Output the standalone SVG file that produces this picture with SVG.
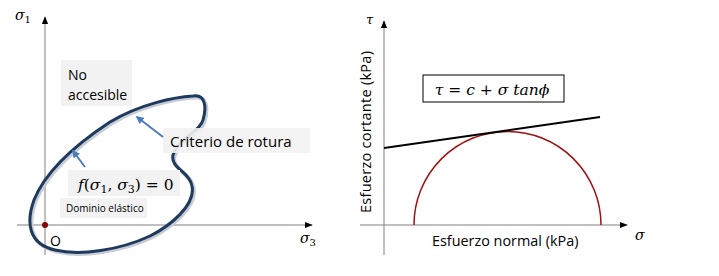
<svg xmlns="http://www.w3.org/2000/svg" width="719" height="276" viewBox="0 0 719 276">
<style>
.ax{stroke:#808080;stroke-width:1;fill:none}
.lbl{font-family:"Open Sans","Liberation Sans",Arial,sans-serif;fill:#000}
.math{font-family:"DejaVu Serif","Liberation Serif",serif;font-style:italic;fill:#000}
.up{font-style:normal}
.gbox{fill:#f2f2f2}
.barrow{stroke:#4a7ebb;stroke-width:2;fill:none;marker-end:url(#ba)}
</style>
<defs>
<marker id="ah" viewBox="0 0 10 10" refX="9" refY="5" markerWidth="8" markerHeight="8" markerUnits="userSpaceOnUse" orient="auto"><path d="M0,1 L10,5 L0,9 Z" fill="#000"/></marker>
<marker id="ba" viewBox="0 0 10 10" refX="8" refY="5" markerWidth="8" markerHeight="8" markerUnits="userSpaceOnUse" orient="auto"><path d="M0,0 L10,5 L0,10 Z" fill="#4a7ebb"/></marker>
</defs>
<rect width="719" height="276" fill="#fff"/>
<g id="left-axes">
<line class="ax" x1="45" y1="255" x2="45" y2="17" marker-end="url(#ah)"/>
<line class="ax" x1="17" y1="225" x2="312" y2="225" marker-end="url(#ah)"/>
<text class="math" x="15" y="20" font-size="14">σ<tspan class="up" font-size="10" dy="3">1</tspan></text>
<text class="math" x="300" y="243" font-size="14">σ<tspan class="up" font-size="10" dy="3">3</tspan></text>
</g>
<g id="no-accesible">
<rect class="gbox" x="61" y="60" width="71" height="46"/>
<text class="lbl" x="68" y="80" font-size="14">No</text>
<text class="lbl" x="68" y="100" font-size="14">accesible</text>
</g>
<g id="blob">
<path d="M193,96 C207,94 206,110 203,120 C200,132 178,138 173,155 C170,168 190,172 192,186 C196,205 170,226 150,236 C120,250 80,256 55,250 C28,244 26,222 34,200 C46,170 75,145 110,122 C140,104 175,97 193,96 Z" fill="none" stroke="#c8ccd4" stroke-width="4" transform="translate(1.5,1.5)"/>
<path d="M193,96 C207,94 206,110 203,120 C200,132 178,138 173,155 C170,168 190,172 192,186 C196,205 170,226 150,236 C120,250 80,256 55,250 C28,244 26,222 34,200 C46,170 75,145 110,122 C140,104 175,97 193,96 Z" fill="none" stroke="#1f3a5f" stroke-width="3"/>
</g>
<g id="criterio">
<rect class="gbox" x="163" y="128" width="147" height="25" opacity="0.9"/>
<text class="lbl" x="170" y="147" font-size="15">Criterio de rotura</text>
</g>
<g id="funcion">
<rect class="gbox" x="68" y="170" width="112" height="26"/>
<text class="math" x="78" y="190" font-size="15.5">f<tspan class="up">(</tspan>σ<tspan class="up" font-size="11" dy="3">1</tspan><tspan class="up" dy="-3">, </tspan>σ<tspan class="up" font-size="11" dy="3">3</tspan><tspan class="up" dy="-3">) = 0</tspan></text>
</g>
<g id="dominio">
<rect class="gbox" x="60" y="198" width="87" height="20"/>
<text class="lbl" x="66" y="212" font-size="10">Dominio elástico</text>
</g>
<g id="origin">
<circle cx="45" cy="225" r="3" fill="#8b0000"/>
<text class="lbl" x="50" y="246" font-size="14">O</text>
</g>
<g id="connectors">
<line class="barrow" x1="163" y1="137" x2="137" y2="117"/>
<line class="barrow" x1="85" y1="167" x2="73" y2="151"/>
</g>
<g id="right-axes">
<line class="ax" x1="384" y1="255" x2="384" y2="21" marker-end="url(#ah)"/>
<line class="ax" x1="360" y1="225" x2="627" y2="225" marker-end="url(#ah)"/>
<text class="math" x="366" y="24" font-size="13">τ</text>
<text class="math" x="635" y="240" font-size="14">σ</text>
<text class="lbl" font-size="14.5" transform="translate(371,132) rotate(-90)" text-anchor="middle" textLength="162" lengthAdjust="spacing">Esfuerzo cortante  (kPa)</text>
<text class="lbl" x="432" y="246" font-size="14.4">Esfuerzo normal (kPa)</text>
</g>
<g id="formula">
<rect x="423" y="75" width="141" height="27" fill="#fff" stroke="#000" stroke-width="1"/>
<text class="math" x="492" y="95" font-size="15.5" text-anchor="middle">τ <tspan class="up">=</tspan> c <tspan class="up">+</tspan>  σ tanϕ</text>
</g>
<g id="mohr">
<path d="M414,225 A93.5,93.5 0 0 1 601,225" fill="none" stroke="#a01010" stroke-width="1.5"/>
<line x1="384" y1="148" x2="600" y2="117" stroke="#000" stroke-width="2"/>
</g>
</svg>
